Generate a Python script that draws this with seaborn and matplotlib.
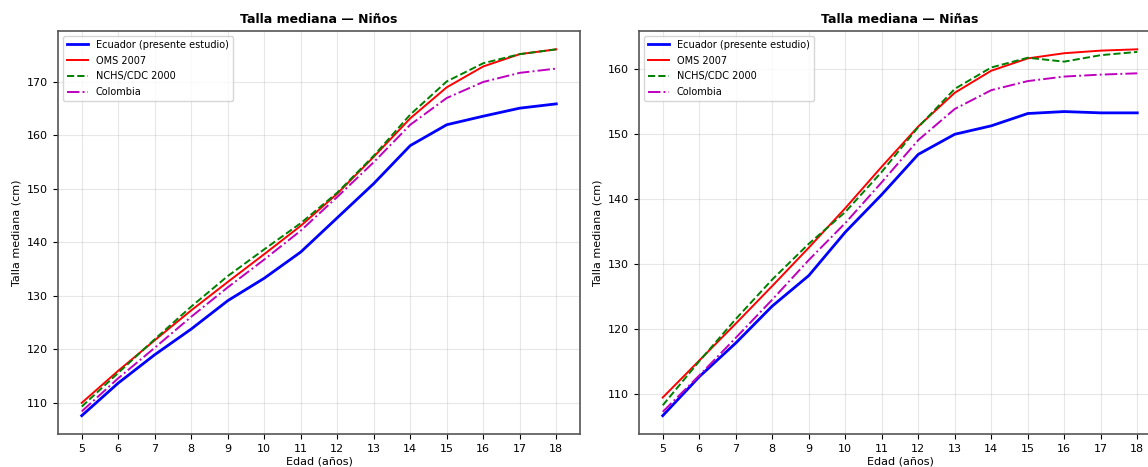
import pandas as pd
import matplotlib
matplotlib.use("Agg")
import matplotlib.pyplot as plt
import seaborn as sns

# ------------------------------------------------------------
# Data
# ------------------------------------------------------------
edad = list(range(5, 19))

ninos_ecuador = [107.6, 113.7, 119.0, 123.8, 129.1, 133.3, 138.2, 144.6, 151.0, 158.1, 162.0, 163.6, 165.1, 165.9]
ninos_oms = [110.0, 116.0, 121.7, 127.3, 132.6, 137.8, 143.1, 149.1, 156.0, 163.2, 169.0, 172.9, 175.2, 176.1]
ninos_cdc = [109.3, 115.6, 121.9, 128.0, 133.7, 138.7, 143.6, 149.3, 156.2, 163.9, 170.1, 173.5, 175.2, 176.1]
ninos_colombia = [108.4, 114.6, 120.3, 126.1, 131.6, 136.8, 142.2, 148.5, 155.0, 162.0, 167.0, 170.0, 171.7, 172.5]

ninas_ecuador = [106.6, 112.6, 117.8, 123.5, 128.2, 134.9, 140.7, 146.9, 150.0, 151.3, 153.2, 153.5, 153.3, 153.3]
ninas_oms = [109.4, 115.1, 120.8, 126.6, 132.5, 138.6, 145.0, 151.2, 156.4, 159.8, 161.7, 162.5, 162.9, 163.1]
ninas_cdc = [108.2, 115.0, 121.5, 127.6, 133.1, 138.0, 144.2, 151.1, 157.0, 160.3, 161.8, 161.2, 162.2, 162.7]
ninas_colombia = [107.2, 112.8, 118.6, 124.5, 130.6, 136.3, 142.6, 149.1, 153.9, 156.8, 158.2, 158.9, 159.2, 159.4]

series_names = ["Ecuador (presente estudio)", "OMS 2007", "NCHS/CDC 2000", "Colombia"]
series_colors = ["b", "r", "g", "m"]
series_styles = ["-", "-", "--", "-."]
series_widths = [2.0, 1.4, 1.4, 1.4]

paneles = {
    "Niños": [ninos_ecuador, ninos_oms, ninos_cdc, ninos_colombia],
    "Niñas": [ninas_ecuador, ninas_oms, ninas_cdc, ninas_colombia],
}

# ------------------------------------------------------------
# Plot
# ------------------------------------------------------------
W, H = 1148, 467
fig = plt.figure(figsize=(W / 100, H / 100), dpi=100)

# right panel runs past the right edge, as in the (cropped) reference
posiciones = [
    [58 / W, 33 / H, 522 / W, 403 / H],
    [639 / W, 33 / H, 522 / W, 403 / H],
]

for pos, (sexo, valores) in zip(posiciones, paneles.items()):
    ax = fig.add_axes(pos)
    for name, vals, c, ls, lw in zip(series_names, valores, series_colors, series_styles, series_widths):
        sns.lineplot(x=edad, y=vals, ax=ax, color=c, linestyle=ls, linewidth=lw, label=name)

    ax.set_title(f"Talla mediana — {sexo}", fontsize=9, fontweight="bold")
    ax.set_xlabel("Edad (años)", fontsize=8, labelpad=2)
    ax.set_ylabel("Talla mediana (cm)", fontsize=8)
    ax.set_xticks(edad)
    ax.tick_params(labelsize=8)
    ax.grid(True, alpha=0.3)
    for s in ax.spines.values():
        s.set_color("#555555")
        s.set_linewidth(1.2)
    ax.legend(loc="upper left", fontsize=7, handlelength=2.2, labelspacing=0.6, framealpha=0.8)

fig.savefig("out.png", dpi=100)
